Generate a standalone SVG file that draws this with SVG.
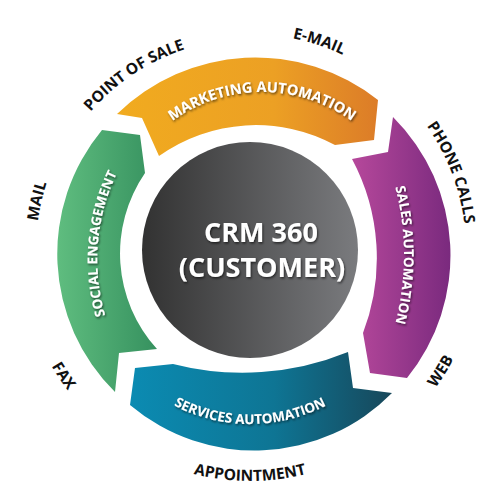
<svg xmlns="http://www.w3.org/2000/svg" width="500" height="500" viewBox="0 0 500 500">
  <style>
    .w { fill:#ffffff; font-family:"Open Sans","Liberation Sans",sans-serif; font-weight:700; filter:url(#sh); }
    .lbl { fill:#111111; font-family:"Open Sans","Liberation Sans",sans-serif; font-weight:700; font-size:15.5px; }
  </style>
  <defs>
    <filter id="sh" x="-20%" y="-20%" width="140%" height="140%">
      <feDropShadow dx="1" dy="1.5" stdDeviation="0.8" flood-color="#000" flood-opacity="0.6"/>
    </filter>
    <linearGradient id="gOr" x1="0" y1="0" x2="1" y2="0">
      <stop offset="0" stop-color="#F1AB1F"/>
      <stop offset="0.6" stop-color="#ECA024"/>
      <stop offset="1" stop-color="#DC7C28"/>
    </linearGradient>
    <linearGradient id="gGr" x1="0" y1="0" x2="1" y2="0">
      <stop offset="0" stop-color="#5FBD7F"/>
      <stop offset="1" stop-color="#36915F"/>
    </linearGradient>
    <linearGradient id="gPu" x1="0" y1="0" x2="1" y2="0">
      <stop offset="0" stop-color="#B6489B"/>
      <stop offset="1" stop-color="#7A2A7E"/>
    </linearGradient>
    <linearGradient id="gTe" x1="0" y1="0" x2="1" y2="0">
      <stop offset="0" stop-color="#0B8BB2"/>
      <stop offset="0.55" stop-color="#0E7594"/>
      <stop offset="1" stop-color="#17475A"/>
    </linearGradient>
    <linearGradient id="gCi" x1="0" y1="0" x2="1" y2="0">
      <stop offset="0" stop-color="#323232"/>
      <stop offset="1" stop-color="#7A7B7E"/>
    </linearGradient>
    <path id="tpOr" d="M 129.5,168.5 A 153 153 0 0 1 394.5,168.5"/>
    <path id="tpGr" d="M 112,335 A 200 200 0 0 1 127,155"/>
    <path id="tpPu" d="M 382.7,150 A 270 270 0 0 1 382.7,360"/>
    <path id="tpTe" d="M 107.1,341.5 A 165 165 0 0 0 392.9,341.5"/>
    <path id="lPos" d="M 47.7,190.1 A 211 211 0 0 1 273.9,40.4"/>
    <path id="lEm" d="M 170.5,49.2 A 216 216 0 0 1 434,136.8"/>
    <path id="lPh" d="M 354.7,61.1 A 216 216 0 0 1 454.2,320.3"/>
    <path id="lMa" d="M 59.3,347.2 A 214 214 0 0 1 121.2,79.1"/>
    <path id="lWe" d="M 319.9,470.2 A 231 231 0 0 0 479,219.4"/>
    <path id="lAp" d="M 101.5,426.9 A 231 231 0 0 0 398.5,426.9"/>
    <path id="lFa" d="M 21.3,226 A 230 230 0 0 0 186.6,471.1"/>
  </defs>
  <rect width="500" height="500" fill="#ffffff"/>

  <g id="connectors">
    <g id="marketing-automation">
      <path d="M 117,114 A 198 198 0 0 1 378,100 L 374,140 L 335,145 A 167 167 0 0 0 159,156 L 142,118 Z" fill="url(#gOr)"/>
      <text class="w" font-size="14.5"><textPath href="#tpOr" startOffset="50%" text-anchor="middle">MARKETING AUTOMATION</textPath></text>
    </g>
    <g id="sales-automation">
      <path d="M 393,117 A 195 195 0 0 1 407,378 L 370,373 L 363,333 A 210 210 0 0 0 352,159 L 388,152 Z" fill="url(#gPu)"/>
      <text class="w" font-size="13.5"><textPath href="#tpPu" startOffset="50%" text-anchor="middle">SALES AUTOMATION</textPath></text>
    </g>
    <g id="services-automation">
      <path d="M 392,393 A 193 193 0 0 1 130,405 L 135,368 L 173,364 A 280 280 0 0 0 348,352 L 353,388 Z" fill="url(#gTe)"/>
      <text class="w" font-size="13.5"><textPath href="#tpTe" startOffset="50%" text-anchor="middle">SERVICES AUTOMATION</textPath></text>
    </g>
    <g id="social-engagement">
      <path d="M 102,130 L 140,135 L 145,173 A 142 142 0 0 0 157,349 L 119,353 L 115,392 A 194 194 0 0 1 102,130 Z" fill="url(#gGr)"/>
      <text class="w" font-size="13.5"><textPath href="#tpGr" startOffset="50%" text-anchor="middle">SOCIAL ENGAGEMENT</textPath></text>
    </g>
  </g>

  <g id="crm-center">
    <circle cx="250" cy="250" r="108" fill="url(#gCi)"/>
    <text class="w" font-size="27" x="261" y="242" text-anchor="middle">CRM 360</text>
    <text class="w" font-size="27" x="262" y="277" text-anchor="middle">(CUSTOMER)</text>
  </g>

  <g id="labels">
    <text class="lbl"><textPath href="#lPos" startOffset="50%" text-anchor="middle">POINT OF SALE</textPath></text>
    <text class="lbl"><textPath href="#lEm" startOffset="50%" text-anchor="middle">E-MAIL</textPath></text>
    <text class="lbl"><textPath href="#lPh" startOffset="50%" text-anchor="middle">PHONE CALLS</textPath></text>
    <text class="lbl"><textPath href="#lMa" startOffset="50%" text-anchor="middle">MAIL</textPath></text>
    <text class="lbl"><textPath href="#lWe" startOffset="50%" text-anchor="middle">WEB</textPath></text>
    <text class="lbl"><textPath href="#lAp" startOffset="50%" text-anchor="middle">APPOINTMENT</textPath></text>
    <text class="lbl"><textPath href="#lFa" startOffset="50%" text-anchor="middle">FAX</textPath></text>
  </g>
</svg>
